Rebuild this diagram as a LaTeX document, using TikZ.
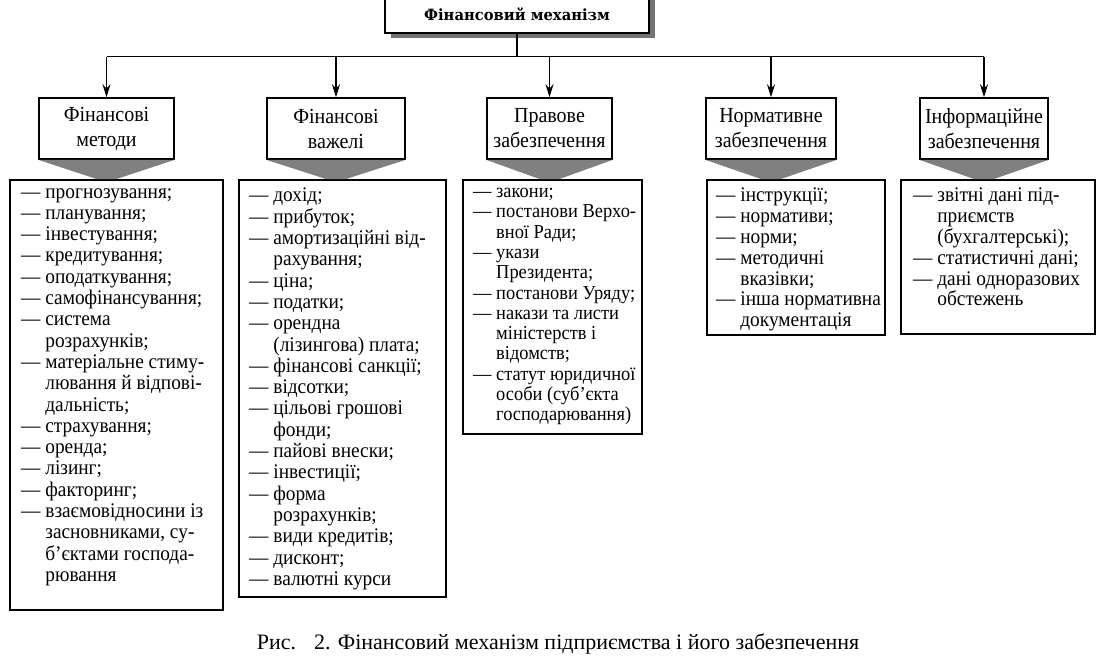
\documentclass[tikz,border=0pt]{standalone}
\usepackage{fontspec}
\setmainfont{Liberation Serif}
\newfontfamily\narrowfont[FakeStretch=0.93]{Liberation Serif}
\newfontfamily\titlefont[FakeStretch=0.95]{DejaVu Serif}
\usetikzlibrary{arrows.meta, positioning, calc, shadows}

% indent for continued list lines
\newcommand{\ind}{\hphantom{—\ }}

\begin{document}
\begin{tikzpicture}[
    x=1pt, y=-1pt,
    topbox/.style={rectangle, draw, line width=1.6pt, fill=white, minimum width=264pt, minimum height=38pt, font=\titlefont\bfseries\fontsize{15.5}{18}\selectfont, drop shadow={shadow xshift=6pt, shadow yshift=-5pt, fill=black!55, opacity=1}},
    headbox/.style={rectangle, draw, line width=1.6pt, minimum height=61pt, inner sep=0pt, align=center, font=\narrowfont\fontsize{21.5}{25}\selectfont},
    listbox/.style={rectangle, draw, line width=1.6pt, anchor=north west, inner sep=0pt},
    listtext/.style={inner sep=0pt, anchor=north west, align=left, font=\narrowfont\fontsize{20.8}{21.3}\selectfont},
    funnel/.style={fill=black!50},
    arrow/.style={-{Stealth[length=13pt, width=8pt]}, line width=1.1pt},
    link/.style={line width=1.1pt}
]
\useasboundingbox (0,0) rectangle (1099,662);

% Top box
\node[topbox] (mech) at (517,14) {Фінансовий механізм};

% Headers
\node[headbox, minimum width=135pt] (h1) at (106.5,128.5) {Фінансові\\методи};
\node[headbox, minimum width=138pt] (h2) at (336,128.5) {Фінансові\\важелі};
\node[headbox, minimum width=125pt] (h3) at (549.5,128.5) {Правове\\забезпечення};
\node[headbox, minimum width=130pt] (h4) at (771,128.5) {Нормативне\\забезпечення};
\node[headbox, minimum width=128pt] (h5) at (984,128.5) {Інформаційне\\забезпечення};

% Connectors
\draw[link] (mech.south) -- ++(0,23) coordinate (bus);
\draw[link] (h1.north |- bus) -- (h5.north |- bus);
\foreach \i in {1,...,5}
    \draw[arrow] (h\i.north |- bus) -- (h\i.north);

% List boxes
\node[listbox, minimum width=213pt, minimum height=430pt] (l1) at (9,179) {};
\node[listbox, minimum width=207pt, minimum height=417pt] (l2) at (238,179) {};
\node[listbox, minimum width=179pt, minimum height=254pt] (l3) at (462,179) {};
\node[listbox, minimum width=178pt, minimum height=155pt] (l4) at (706,179) {};
\node[listbox, minimum width=194pt, minimum height=154pt] (l5) at (900,179) {};

% Funnels between headers and lists
\foreach \i in {1,...,5}
    \fill[funnel] (h\i.south west) -- (h\i.south east)
        -- ($(h\i.south |- l\i.north)+(10,0)$) -- ($(h\i.south |- l\i.north)+(-10,0)$) -- cycle;

% List texts
\node[listtext, below right=9pt and 12pt of l1.north west] (t1) {%
— прогнозування;\\
— планування;\\
— інвестування;\\
— кредитування;\\
— оподаткування;\\
— самофінансування;\\
— система\\
\ind розрахунків;\\
— матеріальне стиму-\\
\ind лювання й відпові-\\
\ind дальність;\\
— страхування;\\
— оренда;\\
— лізинг;\\
— факторинг;\\
— взаємовідносини із\\
\ind засновниками, су-\\
\ind б’єктами господа-\\
\ind рювання};

\node[listtext, below right=9pt and 11pt of l2.north west] (t2) {%
— дохід;\\
— прибуток;\\
— амортизаційні від-\\
\ind рахування;\\
— ціна;\\
— податки;\\
— орендна\\
\ind (лізингова) плата;\\
— фінансові санкції;\\
— відсотки;\\
— цільові грошові\\
\ind фонди;\\
— пайові внески;\\
— інвестиції;\\
— форма\\
\ind розрахунків;\\
— види кредитів;\\
— дисконт;\\
— валютні курси};

\node[listtext, below right=9pt and 11pt of l3.north west, font=\narrowfont\fontsize{19.8}{20.3}\selectfont] (t3) {%
— закони;\\
— постанови Верхо-\\
\ind вної Ради;\\
— укази\\
\ind Президента;\\
— постанови Уряду;\\
— накази та листи\\
\ind міністерств і\\
\ind відомств;\\
— статут юридичної\\
\ind особи (суб’єкта\\
\ind господарювання)};

\node[listtext, below right=9pt and 10pt of l4.north west, font=\narrowfont\fontsize{20.8}{20.8}\selectfont] (t4) {%
— інструкції;\\
— нормативи;\\
— норми;\\
— методичні\\
\ind вказівки;\\
— інша нормативна\\
\ind документація};

\node[listtext, below right=9pt and 13pt of l5.north west, font=\narrowfont\fontsize{20.8}{20.8}\selectfont] (t5) {%
— звітні дані під-\\
\ind приємств\\
\ind (бухгалтерські);\\
— статистичні дані;\\
— дані одноразових\\
\ind обстежень};

% Caption
\node[anchor=base, font=\fontsize{22}{26}\selectfont] (cap) at (558,649) {Рис.\hspace{18pt}2. Фінансовий механізм підприємства і його забезпечення};

\end{tikzpicture}
\end{document}
